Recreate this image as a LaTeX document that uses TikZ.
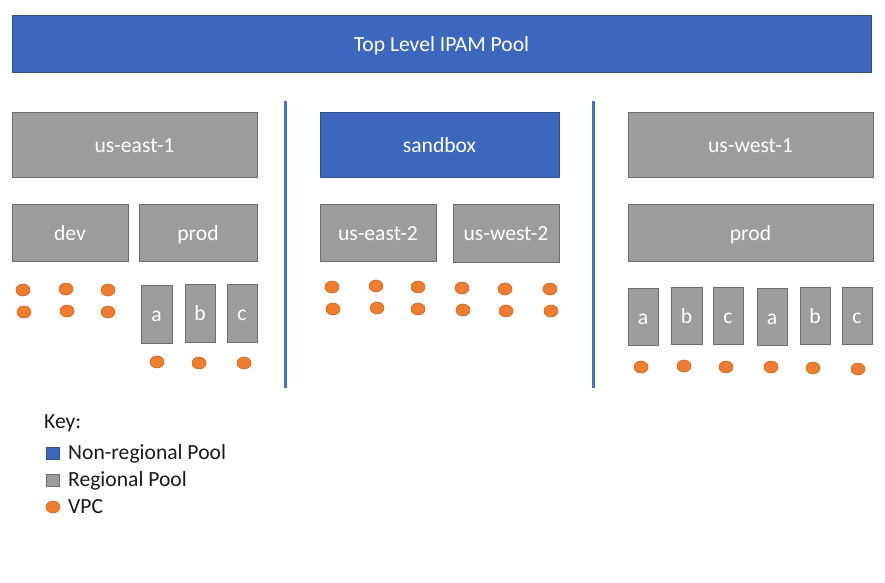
\documentclass[tikz,border=0pt]{standalone}
\usepackage{fontspec}
\setmainfont{Carlito}
\usetikzlibrary{shapes.geometric}
\definecolor{poolblue}{HTML}{3C67BD}
\definecolor{poolblueedge}{HTML}{2F528F}
\definecolor{poolgray}{HTML}{9C9C9C}
\definecolor{poolgrayedge}{HTML}{6E6E6E}
\definecolor{vpcorange}{HTML}{ED7D31}
\definecolor{vpcedge}{HTML}{C8641F}
\definecolor{divblue}{HTML}{4472C4}
\definecolor{keytext}{HTML}{1A1A1A}
\tikzset{
  lbl/.style={font=\fontsize{21.6}{26}\selectfont, text=white, inner sep=0pt, outer sep=0pt,
    text height=16pt, text depth=1pt},
  bluebox/.style={lbl, rectangle, fill=poolblue, draw=poolblueedge, line width=1pt},
  graybox/.style={lbl, rectangle, fill=poolgray, draw=poolgrayedge, line width=1pt},
  vpc/.style={ellipse, fill=vpcorange, draw=vpcedge, line width=0.6pt, minimum width=14pt, minimum height=12pt, inner sep=0pt},
  divider/.style={draw=divblue, line width=3pt},
  keylbl/.style={font=\fontsize{21.6}{26}\selectfont, text=keytext, inner sep=0pt, anchor=base west},
  keysq/.style={rectangle, line width=0.8pt, minimum width=13pt, minimum height=12pt, inner sep=0pt}
}
\begin{document}
\begin{tikzpicture}[x=1pt,y=-1pt]
\useasboundingbox (0,0) rectangle (885,582);
% top
\node[bluebox, minimum width=859pt, minimum height=57pt] (top) at (441.5,43.5) {Top Level IPAM Pool};
% dividers
\coordinate (d1a) at (285,101); \coordinate (d1b) at (285,388);
\coordinate (d2a) at (593,101); \coordinate (d2b) at (593,388);
\draw[divider] (d1a) -- (d1b);
\draw[divider] (d2a) -- (d2b);
% left column
\node[graybox, minimum width=245pt, minimum height=65pt] (ue1) at (134.5,144.5) {us-east-1};
\node[graybox, minimum width=116pt, minimum height=57pt] (dev) at (70,232.5) {dev};
\node[graybox, minimum width=118pt, minimum height=57pt] (prodL) at (198,232.5) {prod};
\node[graybox, minimum width=31pt, minimum height=58pt] (aL) at (156.5,314) {a};
\node[graybox, minimum width=30pt, minimum height=58pt] (bL) at (200,313) {b};
\node[graybox, minimum width=30pt, minimum height=58pt] (cL) at (242,313) {c};
\node[vpc] (v1) at (23,290) {};
\node[vpc] (v2) at (66,289) {};
\node[vpc] (v3) at (108,290) {};
\node[vpc] (v4) at (24,312) {};
\node[vpc] (v5) at (67,311) {};
\node[vpc] (v6) at (108,312) {};
\node[vpc] (v7) at (157,362) {};
\node[vpc] (v8) at (199,363) {};
\node[vpc] (v9) at (244,363) {};
% middle column
\node[bluebox, minimum width=239pt, minimum height=65pt] (sand) at (439.5,144.5) {sandbox};
\node[graybox, minimum width=116pt, minimum height=57pt] (ue2) at (378,232.5) {us-east-2};
\node[graybox, minimum width=106pt, minimum height=58pt] (uw2) at (506,233) {us-west-2};
\node[vpc] (m1) at (332,287) {};
\node[vpc] (m2) at (376,286) {};
\node[vpc] (m3) at (418,287) {};
\node[vpc] (m4) at (462,288) {};
\node[vpc] (m5) at (505,289) {};
\node[vpc] (m6) at (550,289) {};
\node[vpc] (m7) at (333,309) {};
\node[vpc] (m8) at (377,308) {};
\node[vpc] (m9) at (418,309) {};
\node[vpc] (m10) at (463,310) {};
\node[vpc] (m11) at (506,311) {};
\node[vpc] (m12) at (551,311) {};
% right column
\node[graybox, minimum width=245pt, minimum height=65pt] (uw1) at (750.5,144.5) {us-west-1};
\node[graybox, minimum width=245pt, minimum height=57pt] (prodR) at (750.5,232.5) {prod};
\node[graybox, minimum width=30pt, minimum height=57pt] (aR) at (643,316.5) {a};
\node[graybox, minimum width=31pt, minimum height=57pt] (bR) at (686.5,316) {b};
\node[graybox, minimum width=30pt, minimum height=57pt] (cR) at (728,316) {c};
\node[graybox, minimum width=30pt, minimum height=57pt] (aR2) at (772,316.5) {a};
\node[graybox, minimum width=30pt, minimum height=57pt] (bR2) at (815,316) {b};
\node[graybox, minimum width=30pt, minimum height=57pt] (cR2) at (857,316) {c};
\node[vpc] (r1) at (641,367) {};
\node[vpc] (r2) at (684,366) {};
\node[vpc] (r3) at (726,367) {};
\node[vpc] (r4) at (771,367) {};
\node[vpc] (r5) at (813,368) {};
\node[vpc] (r6) at (858,369) {};
% key
\node[keylbl] (keyt) at (44,428) {Key:};
\node[keysq, fill=poolblue, draw=poolblueedge] (k1) at (53,453) {};
\node[keylbl] (k1t) at (68,459) {Non-regional Pool};
\node[keysq, fill=poolgray, draw=poolgrayedge] (k2) at (53,480) {};
\node[keylbl] (k2t) at (68,486) {Regional Pool};
\node[vpc] (k3) at (53,507) {};
\node[keylbl] (k3t) at (68,513) {VPC};
\end{tikzpicture}
\end{document}
